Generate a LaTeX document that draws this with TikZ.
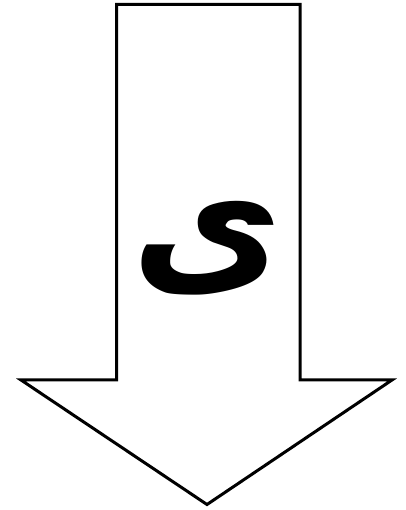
\documentclass[tikz,border=0pt]{standalone}
\usepackage{fontspec}
\newfontfamily\arabicfont[Script=Arabic]{DejaVu Sans Bold}
\TeXXeTstate=1
\begin{document}
\begin{tikzpicture}[x=1pt,y=1pt,
  arrowshape/.style={draw=black,line width=3pt,line join=miter,fill=white},
  letter/.style={font=\arabicfont\fontsize{165}{165}\selectfont,inner sep=0pt}]
\useasboundingbox (0,0) rectangle (405,510);
\draw[arrowshape] (116.5,505.5) -- (300,505.5) -- (300,130) -- (392,130) -- (207,5.5) -- (21,130) -- (116.5,130) -- cycle;
\node[letter] (ya) at (207,262) {\arabicfont\beginR ى\endR};
\end{tikzpicture}
\end{document}
